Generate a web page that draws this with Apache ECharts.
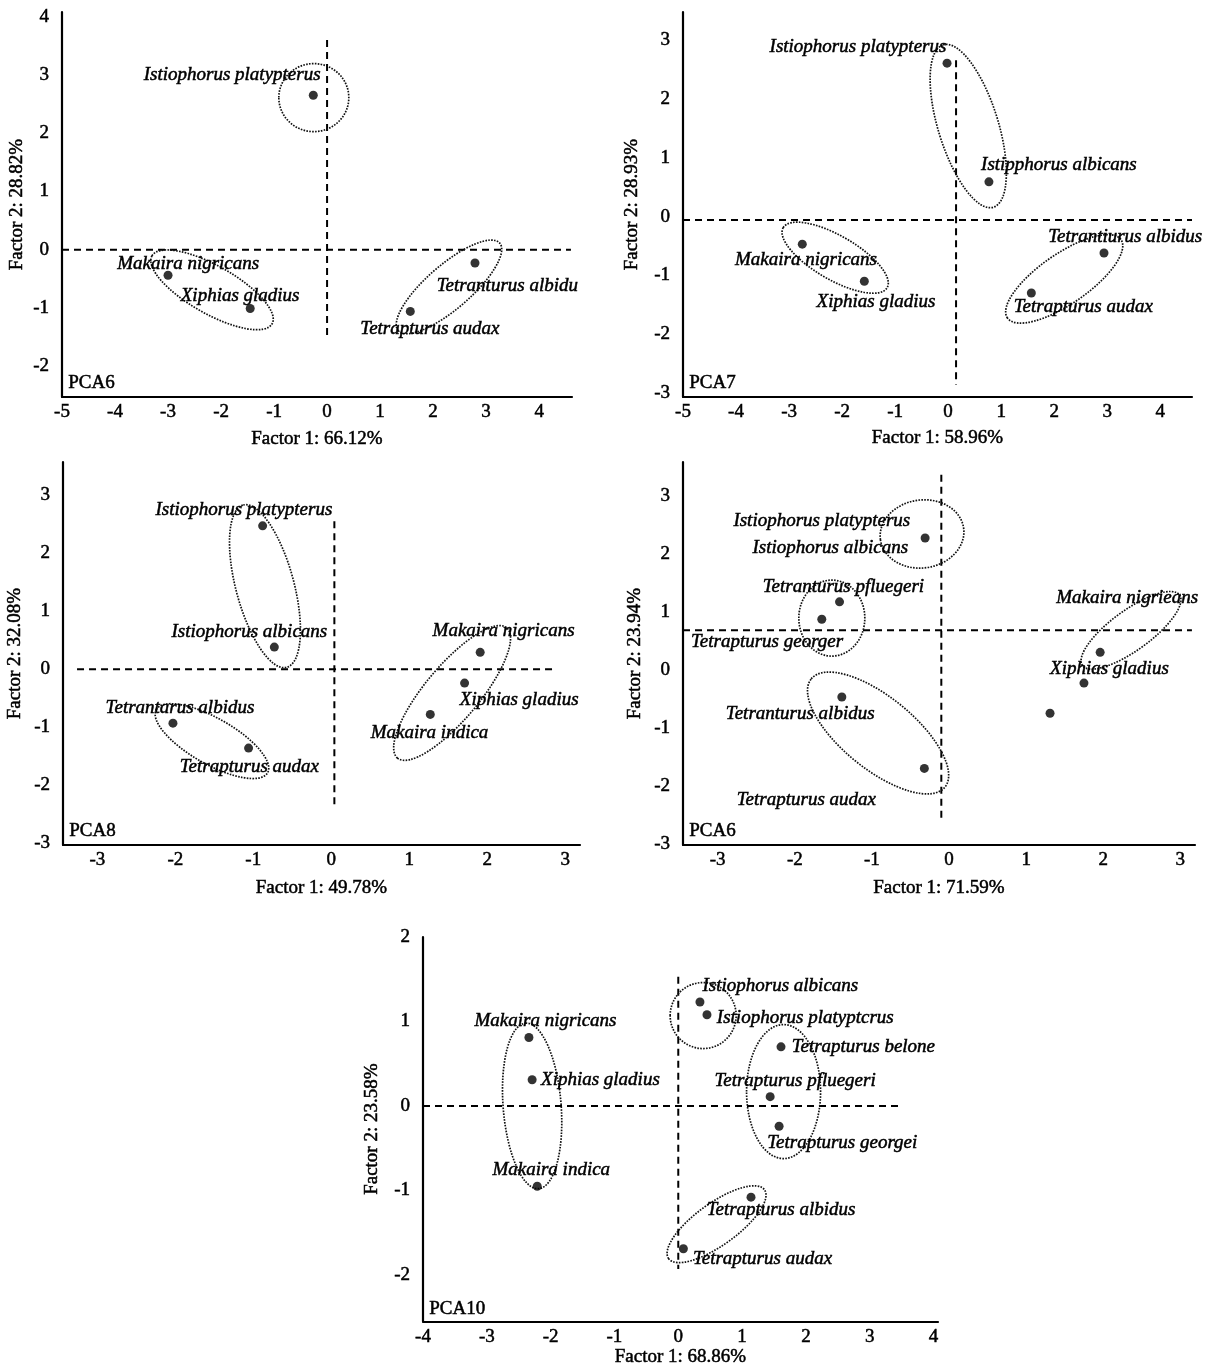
<!DOCTYPE html>
<html><head><meta charset="utf-8">
<script src="https://cdn.jsdelivr.net/npm/echarts@6/dist/echarts.min.js"></script>
<style>html,body{margin:0;padding:0;background:#fff}#c{width:1207px;height:1368px}</style>
</head><body><div id="c"></div>
<script>
// ================= DATA =================
// ---- Panel 1 : PCA6 (Factor 1: 66.12%, Factor 2: 28.82%)
const pca1PointX = [-0.26, -3.00, -1.45, 2.79, 1.57];
const pca1PointY = [2.65, -0.44, -1.01, -0.23, -1.06];
const pca1Labels = ['Istiophorus platypterus', 'Makaira nigricans', 'Xiphias gladius', 'Tetranturus albidu', 'Tetrapturus audax'];
const pca1LabelX = [-1.79, -2.62, -1.64, 3.40, 1.94];
const pca1LabelY = [3.00, -0.25, -0.80, -0.63, -1.37];
const pca1XTicks = [-5, -4, -3, -2, -1, 0, 1, 2, 3, 4];
const pca1YTicks = [-2, -1, 0, 1, 2, 3, 4];
const pca1HLine = [[-5, 0], [4.6, 0]];
const pca1VLine = [[0, 3.6], [0, -1.48]];
const pca1GroupCentres = [[-0.25, 2.61], [-2.17, -0.69], [2.30, -0.64]];

// ---- Panel 2 : PCA7 (58.96% / 28.93%)
const pca2PointX = [-0.02, 0.77, -2.75, -1.58, 2.94, 1.57];
const pca2PointY = [2.61, 0.59, -0.47, -1.10, -0.62, -1.30];
const pca2Labels = ['Istiophorus platypterus', 'Istipphorus albicans', 'Makaira nigricans', 'Xiphias gladius', 'Tetrantiurus albidus', 'Tetrapturus audax'];
const pca2LabelX = [-1.70, 2.09, -2.68, -1.36, 3.34, 2.55];
const pca2LabelY = [2.88, 0.88, -0.74, -1.46, -0.35, -1.54];
const pca2XTicks = [-5, -4, -3, -2, -1, 0, 1, 2, 3, 4];
const pca2YTicks = [-3, -2, -1, 0, 1, 2, 3];
const pca2HLine = [[-5, -0.06], [4.6, -0.06]];
const pca2VLine = [[0.15, 2.66], [0.15, -2.86]];
const pca2GroupCentres = [[0.38, 1.54], [-2.13, -0.70], [2.19, -1.06]];

// ---- Panel 3 : PCA8 (49.78% / 32.08%)
const pca3PointX = [-0.88, -0.73, 1.91, 1.71, 1.27, -2.03, -1.06];
const pca3PointY = [2.47, 0.38, 0.29, -0.24, -0.78, -0.93, -1.36];
const pca3Labels = ['Istiophorus platypterus', 'Istiophorus albicans', 'Makaira nigricans', 'Xiphias gladius', 'Makaira indica', 'Tetrantarus albidus', 'Tetrapturus audax'];
const pca3LabelX = [-1.12, -1.05, 2.21, 2.41, 1.26, -1.94, -1.05];
const pca3LabelY = [2.74, 0.64, 0.66, -0.53, -1.10, -0.67, -1.69];
const pca3XTicks = [-3, -2, -1, 0, 1, 2, 3];
const pca3YTicks = [-3, -2, -1, 0, 1, 2, 3];
const pca3HLine = [[-3.26, 0], [2.88, 0]];
const pca3VLine = [[0.04, 2.55], [0.04, -2.34]];
const pca3GroupCentres = [[-0.85, 1.43], [1.55, -0.41], [-1.53, -1.24]];

// ---- Panel 4 : PCA6 (71.59% / 23.94%)
const pca4PointX = [-0.31, -1.42, -1.65, 1.96, 1.75, 1.31, -1.39, -0.32];
const pca4PointY = [2.27, 1.17, 0.87, 0.30, -0.23, -0.75, -0.47, -1.70];
const pca4Labels = ['Istiophorus platypterus', 'Istiophorus albicans', 'Tetranturus pfluegeri', 'Tetrapturus georger', 'Makaira nigrieans', 'Xiphias gladius', 'Tetranturus albidus', 'Tetrapturus audax'];
const pca4LabelX = [-1.65, -1.54, -1.37, -2.36, 2.31, 2.08, -1.93, -1.85];
const pca4LabelY = [2.56, 2.10, 1.42, 0.48, 1.23, 0.01, -0.77, -2.25];
const pca4XTicks = [-3, -2, -1, 0, 1, 2, 3];
const pca4YTicks = [-3, -2, -1, 0, 1, 2, 3];
const pca4HLine = [[-3.45, 0.68], [3.15, 0.68]];
const pca4VLine = [[-0.10, 3.36], [-0.10, -2.59]];
const pca4GroupCentres = [[-0.35, 2.34], [-1.52, 0.89], [-0.92, -1.09], [2.36, 0.68]];

// ---- Panel 5 : PCA10 (68.86% / 23.58%)
const pca5PointX = [0.34, 0.45, -2.34, -2.29, -2.21, 1.61, 1.44, 1.58, 1.14, 0.08];
const pca5PointY = [1.23, 1.08, 0.81, 0.31, -0.95, 0.70, 0.11, -0.24, -1.08, -1.69];
const pca5Labels = ['Istiophorus albicans', 'Istiophorus platyptcrus', 'Makaira nigricans', 'Xiphias gladius', 'Makaira indica', 'Tetrapturus belone', 'Tetrapturus pfluegeri', 'Tetrapturus georgei', 'Tetrapturus albidus', 'Tetrapturus audax'];
const pca5LabelX = [1.60, 1.99, -2.08, -1.22, -1.99, 2.90, 1.83, 2.57, 1.61, 1.32];
const pca5LabelY = [1.42, 1.04, 1.00, 0.31, -0.76, 0.70, 0.29, -0.44, -1.23, -1.81];
const pca5XTicks = [-4, -3, -2, -1, 0, 1, 2, 3, 4];
const pca5YTicks = [-2, -1, 0, 1, 2];
const pca5HLine = [[-4, 0], [3.48, 0]];
const pca5VLine = [[0, 1.53], [0, -1.93]];
const pca5GroupCentres = [[-2.29, 0.0], [0.39, 1.07], [1.65, 0.17], [0.60, -1.40]];

const panelTags = ['PCA6', 'PCA7', 'PCA8', 'PCA6', 'PCA10'];
const xTitles = ['Factor 1: 66.12%', 'Factor 1: 58.96%', 'Factor 1: 49.78%', 'Factor 1: 71.59%', 'Factor 1: 68.86%'];
const yTitles = ['Factor 2: 28.82%', 'Factor 2: 28.93%', 'Factor 2: 32.08%', 'Factor 2: 23.94%', 'Factor 2: 23.58%'];

// ================= LAYOUT / STYLE =================
const FONT = '"Liberation Serif", "Times New Roman", serif';
const layout = [
  { grid: { left: 62, top: 12, width: 510, height: 385 }, x: [-5, 4.62], y: [-2.53, 4.08], xGap: 33, yGap: 35,
    ell: [[35, 34, 0], [69, 24, 29.5], [67, 22, -40.8]] },
  { grid: { left: 683, top: 12, width: 509, height: 385 }, x: [-5, 4.6], y: [-3.07, 3.48], xGap: 32, yGap: 41,
    ell: [[85, 30, 72.8], [60, 22, 30], [69, 25, -34.6]] },
  { grid: { left: 63, top: 462, width: 517, height: 383 }, x: [-3.44, 3.19], y: [-3.03, 3.57], xGap: 34, yGap: 38,
    ell: [[84, 29, 75], [85, 27, -50], [64, 23, 29.6]] },
  { grid: { left: 683, top: 462, width: 512, height: 383 }, x: [-3.45, 3.19], y: [-3.02, 3.58], xGap: 34, yGap: 38,
    ell: [[42, 34, -8], [33, 38, 0], [86, 36, 39], [60, 20, -36]] },
  { grid: { left: 423, top: 937, width: 515, height: 386 }, x: [-4, 4.07], y: [-2.55, 2.0], xGap: 26, yGap: 41,
    ell: [[83, 29, 85.5], [33, 33, 0], [37, 67, 0], [59, 21, -35.7]] }
];

const panels = [
  [pca1PointX, pca1PointY, pca1Labels, pca1LabelX, pca1LabelY, pca1XTicks, pca1YTicks, pca1HLine, pca1VLine, pca1GroupCentres],
  [pca2PointX, pca2PointY, pca2Labels, pca2LabelX, pca2LabelY, pca2XTicks, pca2YTicks, pca2HLine, pca2VLine, pca2GroupCentres],
  [pca3PointX, pca3PointY, pca3Labels, pca3LabelX, pca3LabelY, pca3XTicks, pca3YTicks, pca3HLine, pca3VLine, pca3GroupCentres],
  [pca4PointX, pca4PointY, pca4Labels, pca4LabelX, pca4LabelY, pca4XTicks, pca4YTicks, pca4HLine, pca4VLine, pca4GroupCentres],
  [pca5PointX, pca5PointY, pca5Labels, pca5LabelX, pca5LabelY, pca5XTicks, pca5YTicks, pca5HLine, pca5VLine, pca5GroupCentres]
];

const option = { animation: false, backgroundColor: '#fff', grid: [], xAxis: [], yAxis: [], series: [], graphic: [] };
const axisText = { color: '#000', fontFamily: FONT, fontSize: 19, textBorderColor: '#000', textBorderWidth: 0.5 };

panels.forEach((p, i) => {
  const [px, py, labs, lx, ly, xt, yt, hl, vl, gc] = p;
  const L = layout[i];
  option.grid.push(Object.assign({ containLabel: false }, L.grid));
  option.xAxis.push({
    type: 'value', gridIndex: i, min: L.x[0], max: L.x[1],
    name: xTitles[i], nameLocation: 'middle', nameGap: L.xGap, nameTextStyle: axisText,
    axisLine: { onZero: false, lineStyle: { color: '#000', width: 2.2 } },
    axisTick: { show: false }, splitLine: { show: false },
    axisLabel: Object.assign({ margin: 6, customValues: xt }, axisText)
  });
  option.yAxis.push({
    type: 'value', gridIndex: i, min: L.y[0], max: L.y[1],
    name: yTitles[i], nameLocation: 'middle', nameGap: L.yGap, nameRotate: 90, nameTextStyle: axisText,
    axisLine: { show: true, onZero: false, lineStyle: { color: '#000', width: 2.2 } },
    axisTick: { show: false }, splitLine: { show: false },
    axisLabel: Object.assign({ margin: 13, customValues: yt }, axisText)
  });
  const dashed = { color: '#000', width: 2, type: [7, 5] };
  option.series.push({ type: 'line', xAxisIndex: i, yAxisIndex: i, data: hl, symbol: 'none', lineStyle: dashed, silent: true, z: 1 });
  option.series.push({ type: 'line', xAxisIndex: i, yAxisIndex: i, data: vl, symbol: 'none', lineStyle: dashed, silent: true, z: 1 });
  // grouping ellipses (dotted)
  const ell = L.ell;
  option.series.push({
    type: 'custom', xAxisIndex: i, yAxisIndex: i, silent: true, z: 2,
    data: gc,
    renderItem: function (params, api) {
      const c = api.coord([api.value(0), api.value(1)]);
      const s = ell[params.dataIndex];
      return {
        type: 'ellipse', x: c[0], y: c[1], rotation: -s[2] * Math.PI / 180,
        shape: { cx: 0, cy: 0, rx: s[0], ry: s[1] },
        style: { fill: 'none', stroke: '#111', lineWidth: 1.7, lineDash: [1.6, 1.3] }
      };
    }
  });
  // points
  option.series.push({
    type: 'scatter', xAxisIndex: i, yAxisIndex: i, z: 4,
    data: px.map((v, k) => [v, py[k]]),
    symbol: 'circle', symbolSize: 9, itemStyle: { color: '#000' }
  });
  // species labels
  option.series.push({
    type: 'custom', xAxisIndex: i, yAxisIndex: i, silent: true, z: 3,
    data: lx.map((v, k) => [v, ly[k]]),
    renderItem: function (params, api) {
      const c = api.coord([api.value(0), api.value(1)]);
      return {
        type: 'text', x: c[0], y: c[1],
        style: { text: labs[params.dataIndex], fill: '#000', stroke: '#000', lineWidth: 0.5,
                 font: 'italic 19px ' + FONT, align: 'center', verticalAlign: 'middle' }
      };
    }
  });
  option.graphic.push({
    type: 'text', left: L.grid.left + 6, top: L.grid.top + L.grid.height - 24,
    style: { text: panelTags[i], fill: '#000', stroke: '#000', lineWidth: 0.5, font: '19px ' + FONT }
  });
});

const chart = echarts.init(document.getElementById('c'));
chart.setOption(option);
</script>
</body></html>
